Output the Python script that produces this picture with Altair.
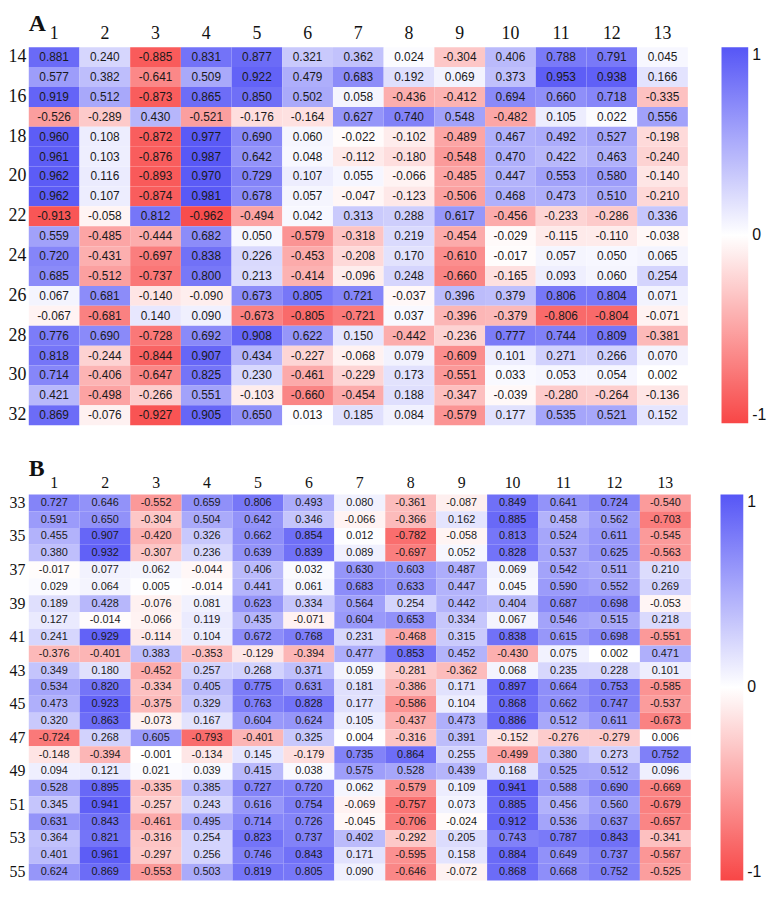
import altair as alt
import pandas as pd

columns = list(range(1, 14))

rows_a = list(range(14, 33))
values_a = [
    [0.881, 0.240, -0.885, 0.831, 0.877, 0.321, 0.362, 0.024, -0.304, 0.406, 0.788, 0.791, 0.045],
    [0.577, 0.382, -0.641, 0.509, 0.922, 0.479, 0.683, 0.192, 0.069, 0.373, 0.953, 0.938, 0.166],
    [0.919, 0.512, -0.873, 0.865, 0.850, 0.502, 0.058, -0.436, -0.412, 0.694, 0.660, 0.718, -0.335],
    [-0.526, -0.289, 0.430, -0.521, -0.176, -0.164, 0.627, 0.740, 0.548, -0.482, 0.105, 0.022, 0.556],
    [0.960, 0.108, -0.872, 0.977, 0.690, 0.060, -0.022, -0.102, -0.489, 0.467, 0.492, 0.527, -0.198],
    [0.961, 0.103, -0.876, 0.987, 0.642, 0.048, -0.112, -0.180, -0.548, 0.470, 0.422, 0.463, -0.240],
    [0.962, 0.116, -0.893, 0.970, 0.729, 0.107, 0.055, -0.066, -0.485, 0.447, 0.553, 0.580, -0.140],
    [0.962, 0.107, -0.874, 0.981, 0.678, 0.057, -0.047, -0.123, -0.506, 0.468, 0.473, 0.510, -0.210],
    [-0.913, -0.058, 0.812, -0.962, -0.494, 0.042, 0.313, 0.288, 0.617, -0.456, -0.233, -0.286, 0.336],
    [0.559, -0.485, -0.444, 0.682, 0.050, -0.579, -0.318, 0.219, -0.454, -0.029, -0.115, -0.110, -0.038],
    [0.720, -0.431, -0.697, 0.838, 0.226, -0.453, -0.208, 0.170, -0.610, -0.017, 0.057, 0.050, 0.065],
    [0.685, -0.512, -0.737, 0.800, 0.213, -0.414, -0.096, 0.248, -0.660, -0.165, 0.093, 0.060, 0.254],
    [0.067, 0.681, -0.140, -0.090, 0.673, 0.805, 0.721, -0.037, 0.396, 0.379, 0.806, 0.804, 0.071],
    [-0.067, -0.681, 0.140, 0.090, -0.673, -0.805, -0.721, 0.037, -0.396, -0.379, -0.806, -0.804, -0.071],
    [0.776, 0.690, -0.728, 0.692, 0.908, 0.622, 0.150, -0.442, -0.236, 0.777, 0.744, 0.809, -0.381],
    [0.818, -0.244, -0.844, 0.907, 0.434, -0.227, -0.068, 0.079, -0.609, 0.101, 0.271, 0.266, 0.070],
    [0.714, -0.406, -0.647, 0.825, 0.230, -0.461, -0.229, 0.173, -0.551, 0.033, 0.053, 0.054, 0.002],
    [0.421, -0.498, -0.266, 0.551, -0.103, -0.660, -0.454, 0.188, -0.347, -0.039, -0.280, -0.264, -0.136],
    [0.869, -0.076, -0.927, 0.905, 0.650, 0.013, 0.185, 0.084, -0.579, 0.177, 0.535, 0.521, 0.152],
]

rows_b = list(range(33, 56))
values_b = [
    [0.727, 0.646, -0.552, 0.659, 0.806, 0.493, 0.080, -0.361, -0.087, 0.849, 0.641, 0.724, -0.540],
    [0.591, 0.650, -0.304, 0.504, 0.642, 0.346, -0.066, -0.366, 0.162, 0.885, 0.458, 0.562, -0.703],
    [0.455, 0.907, -0.420, 0.326, 0.662, 0.854, 0.012, -0.782, -0.058, 0.813, 0.524, 0.611, -0.545],
    [0.380, 0.932, -0.307, 0.236, 0.639, 0.839, 0.089, -0.697, 0.052, 0.828, 0.537, 0.625, -0.563],
    [-0.017, 0.077, 0.062, -0.044, 0.406, 0.032, 0.630, 0.603, 0.487, 0.069, 0.542, 0.511, 0.210],
    [0.029, 0.064, 0.005, -0.014, 0.441, 0.061, 0.683, 0.633, 0.447, 0.045, 0.590, 0.552, 0.269],
    [0.189, 0.428, -0.076, 0.081, 0.623, 0.334, 0.564, 0.254, 0.442, 0.404, 0.687, 0.698, -0.053],
    [0.127, -0.014, -0.066, 0.119, 0.435, -0.071, 0.604, 0.653, 0.334, 0.067, 0.546, 0.515, 0.218],
    [0.241, 0.929, -0.114, 0.104, 0.672, 0.768, 0.231, -0.468, 0.315, 0.838, 0.615, 0.698, -0.551],
    [-0.376, -0.401, 0.383, -0.353, -0.129, -0.394, 0.477, 0.853, 0.452, -0.430, 0.075, 0.002, 0.471],
    [0.349, 0.180, -0.452, 0.257, 0.268, 0.371, 0.059, -0.281, -0.362, 0.068, 0.235, 0.228, 0.101],
    [0.534, 0.820, -0.334, 0.405, 0.775, 0.631, 0.181, -0.386, 0.171, 0.897, 0.664, 0.753, -0.585],
    [0.473, 0.923, -0.375, 0.329, 0.763, 0.828, 0.177, -0.586, 0.104, 0.868, 0.662, 0.747, -0.537],
    [0.320, 0.863, -0.073, 0.167, 0.604, 0.624, 0.105, -0.437, 0.473, 0.886, 0.512, 0.611, -0.673],
    [-0.724, 0.268, 0.605, -0.793, -0.401, 0.325, 0.004, -0.316, 0.391, -0.152, -0.276, -0.279, 0.006],
    [-0.148, -0.394, -0.001, -0.134, 0.145, -0.179, 0.735, 0.864, 0.255, -0.499, 0.380, 0.273, 0.752],
    [0.094, 0.121, 0.021, 0.039, 0.415, 0.038, 0.575, 0.528, 0.439, 0.168, 0.525, 0.512, 0.096],
    [0.528, 0.895, -0.335, 0.385, 0.727, 0.720, 0.062, -0.579, 0.109, 0.941, 0.588, 0.690, -0.669],
    [0.345, 0.941, -0.257, 0.243, 0.616, 0.754, -0.069, -0.757, 0.073, 0.885, 0.456, 0.560, -0.679],
    [0.631, 0.843, -0.461, 0.495, 0.714, 0.726, -0.045, -0.706, -0.024, 0.912, 0.536, 0.637, -0.657],
    [0.364, 0.821, -0.316, 0.254, 0.823, 0.737, 0.402, -0.292, 0.205, 0.743, 0.787, 0.843, -0.341],
    [0.401, 0.961, -0.297, 0.256, 0.746, 0.843, 0.171, -0.595, 0.158, 0.884, 0.649, 0.737, -0.567],
    [0.624, 0.869, -0.553, 0.503, 0.819, 0.805, 0.090, -0.646, -0.072, 0.868, 0.668, 0.752, -0.525],
]

labeled_rows_a = list(range(14, 33, 2))
labeled_rows_b = list(range(33, 56, 2))
legend_values = [-1, 0, 1]
color_range = ["#f84646", "#ffffff", "#5656f6"]

SERIF = "Liberation Serif"
SANS = "Liberation Sans"


def to_frame(rows, values):
    recs = []
    for r, vals in zip(rows, values):
        for c, v in zip(columns, vals):
            recs.append({"row": r, "col": c, "value": v, "label": f"{v:.3f}"})
    return pd.DataFrame(recs)


def panel(rows, values, title, width, height, axis_fs, cell_fs, label_rows,
          title_offset, x_pad, y_pad, leg_offset, leg_len, leg_thick, leg_fs):
    df = to_frame(rows, values)
    base = alt.Chart(df).encode(
        x=alt.X("col:O", sort=columns,
                scale=alt.Scale(paddingInner=0, paddingOuter=0),
                axis=alt.Axis(orient="top", title="", labelAngle=0, ticks=False,
                              domain=False, labelFont=SERIF, labelFontSize=axis_fs,
                              labelColor="#111", labelPadding=x_pad)),
        y=alt.Y("row:O", sort=rows,
                scale=alt.Scale(paddingInner=0, paddingOuter=0),
                axis=alt.Axis(title="", ticks=False, domain=False, values=label_rows,
                              labelFont=SERIF, labelFontSize=axis_fs, labelColor="#111",
                              labelPadding=y_pad)),
    )
    rect = base.mark_rect().encode(
        color=alt.Color("value:Q",
                        scale=alt.Scale(domain=[-1, 0, 1], range=color_range,
                                        interpolate="rgb"),
                        legend=alt.Legend(title="", orient="right", offset=leg_offset,
                                          gradientLength=leg_len,
                                          gradientThickness=leg_thick,
                                          gradientStrokeWidth=0,
                                          values=legend_values,
                                          labelExpr="datum.value < 0 ? '-1' : (datum.value > 0 ? '1' : '0')",
                                          labelFont=SANS, labelFontSize=leg_fs,
                                          labelColor="#111", labelOffset=4,
                                          labelAlign="right",
                                          labelBaseline="middle", padding=0))
    )
    text = base.mark_text(font=SANS, fontSize=cell_fs, color="#1a1a1a").encode(
        text="label:N"
    )
    return alt.layer(rect, text).properties(
        width=width, height=height,
        title=alt.TitleParams(title, anchor="start", frame="group", font=SERIF,
                              fontSize=24, fontWeight="bold", color="#111",
                              offset=title_offset),
    ).resolve_scale(color="independent")


chart_a = panel(rows_a, values_a, "A", 666, 382, 18, 12, labeled_rows_a,
                -12, 5, 3, 34, 380, 27, 16)
chart_b = panel(rows_b, values_b, "B", 669, 390, 16, 11, labeled_rows_b,
                -6, 4, 4, 30, 390, 23, 16)

chart = alt.vconcat(chart_a, chart_b, spacing=32).resolve_scale(
    color="independent").resolve_legend(color="independent").configure_view(
    strokeWidth=0).properties(padding={"left": 0, "top": 0, "right": 2, "bottom": 0},
                              background="white")

chart.save("out.html", embed_options={"renderer": "svg", "actions": False})
